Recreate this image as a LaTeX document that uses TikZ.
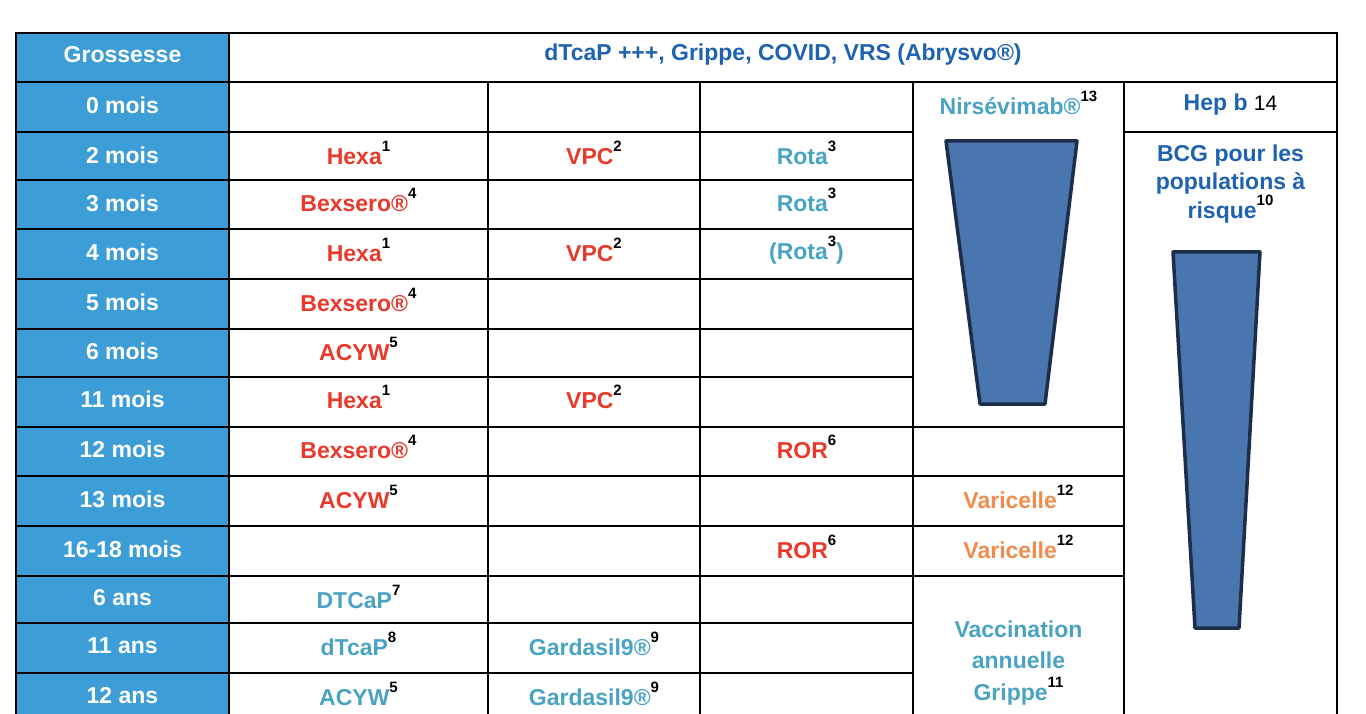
\documentclass[tikz,border=0pt]{standalone}
\usepackage{fontspec}
\setmainfont{Liberation Sans}
\definecolor{cblue}{HTML}{3D9DD6}
\definecolor{vred}{HTML}{E8392A}
\definecolor{vteal}{HTML}{4BA3C3}
\definecolor{vorange}{HTML}{F08C4E}
\definecolor{vdark}{HTML}{1F63B0}
\definecolor{tfill}{HTML}{4A76AF}
\definecolor{tline}{HTML}{1E2D4A}
\newcommand{\sx}[1]{\raisebox{0.55em}{\textcolor{black}{\fontsize{15}{15}\selectfont #1}}}
\begin{document}
\begin{tikzpicture}[x=1pt,y=-1pt,
  lab/.style={font=\fontsize{23}{28}\selectfont\bfseries, inner sep=0pt, align=center},
  age/.style={lab, text=white},
  red/.style={lab, text=vred},
  teal/.style={lab, text=vteal},
  orng/.style={lab, text=vorange},
  dark/.style={lab, text=vdark},
  grid/.style={line width=1.5pt, black},
  trap/.style={fill=tfill, draw=tline, line width=3.5pt, line join=round}]
\useasboundingbox (0,0) rectangle (1366,714);
\fill[white] (0,0) rectangle (1366,714);
\fill[cblue] (16,33) rectangle (229,714);
% trapezoids
\draw[trap] (946,141) -- (1077,141) -- (1045,404) -- (980,404) -- cycle;
\draw[trap] (1173,252) -- (1260,252) -- (1239,628) -- (1195,628) -- cycle;
% grid
\draw[grid] (16,714) -- (16,33) -- (1337,33) -- (1337,714);
\draw[grid] (229,33) -- (229,714);
\foreach \x in {488,700,913,1124} \draw[grid] (\x,82) -- (\x,714);
\draw[grid] (16,82) -- (1337,82);
\draw[grid] (16,132) -- (913,132);
\draw[grid] (1124,132) -- (1337,132);
\foreach \y in {180,229,279,329,377,623,673} \draw[grid] (16,\y) -- (913,\y);
\foreach \y in {427,476,526,576} \draw[grid] (16,\y) -- (1124,\y);
% ages
\node[age] (a0) at (122.5,55) {Grossesse};
\node[age] (a1) at (122.5,105) {0 mois};
\node[age] (a2) at (122.5,155) {2 mois};
\node[age] (a3) at (122.5,203) {3 mois};
\node[age] (a4) at (122.5,252) {4 mois};
\node[age] (a5) at (122.5,302) {5 mois};
\node[age] (a6) at (122.5,351) {6 mois};
\node[age] (a7) at (122.5,399) {11 mois};
\node[age] (a8) at (122.5,449) {12 mois};
\node[age] (a9) at (122.5,499) {13 mois};
\node[age] (a10) at (122.5,549) {16-18 mois};
\node[age] (a11) at (122.5,598) {6 ans};
\node[age] (a12) at (122.5,646) {11 ans};
\node[age] (a13) at (122.5,696) {12 ans};
% header
\node[dark] (hd) at (783,55) {dTcaP +++, Grippe, COVID, VRS (Abrysvo®)};
% column 2
\node[red] (h1) at (358.5,153) {Hexa\sx{1}};
\node[red] (b1) at (358.5,200) {Bexsero®\sx{4}};
\node[red] (h2) at (358.5,250) {Hexa\sx{1}};
\node[red] (b2) at (358.5,300) {Bexsero®\sx{4}};
\node[red] (c1) at (358.5,349) {ACYW\sx{5}};
\node[red] (h3) at (358.5,397) {Hexa\sx{1}};
\node[red] (b3) at (358.5,447) {Bexsero®\sx{4}};
\node[red] (c2) at (358.5,497) {ACYW\sx{5}};
\node[teal] (d1) at (358.5,597) {DTCaP\sx{7}};
\node[teal] (d2) at (358.5,644) {dTcaP\sx{8}};
\node[teal] (c3) at (358.5,694) {ACYW\sx{5}};
% column 3
\node[red] (v1) at (594,153) {VPC\sx{2}};
\node[red] (v2) at (594,250) {VPC\sx{2}};
\node[red] (v3) at (594,397) {VPC\sx{2}};
\node[teal] (g1) at (594,644) {Gardasil9®\sx{9}};
\node[teal] (g2) at (594,694) {Gardasil9®\sx{9}};
% column 4
\node[teal] (r1) at (806.5,153) {Rota\sx{3}};
\node[teal] (r2) at (806.5,200) {Rota\sx{3}};
\node[teal] (r3) at (806.5,250) {(Rota\sx{3})};
\node[red] (o1) at (806.5,447) {ROR\sx{6}};
\node[red] (o2) at (806.5,547) {ROR\sx{6}};
% column 5
\node[teal] (n1) at (1018.5,103) {Nirsévimab®\sx{13}};
\node[orng] (va1) at (1018.5,497) {Varicelle\sx{12}};
\node[orng] (va2) at (1018.5,547) {Varicelle\sx{12}};
\node[teal, font=\fontsize{23}{29.5}\selectfont\bfseries] (gr) at (1018.5,663) {Vaccination\\[2pt]annuelle\\[2pt]Grippe\sx{11}};
% column 6
\node[dark] (hb) at (1230.5,105) {Hep b \textcolor{black}{\mdseries\fontsize{21}{24}\selectfont 14}};
\node[dark, font=\fontsize{23}{27.5}\selectfont\bfseries] (bcg) at (1230.5,184) {BCG pour les\\populations à\\risque\sx{10}};
\end{tikzpicture}
\end{document}
